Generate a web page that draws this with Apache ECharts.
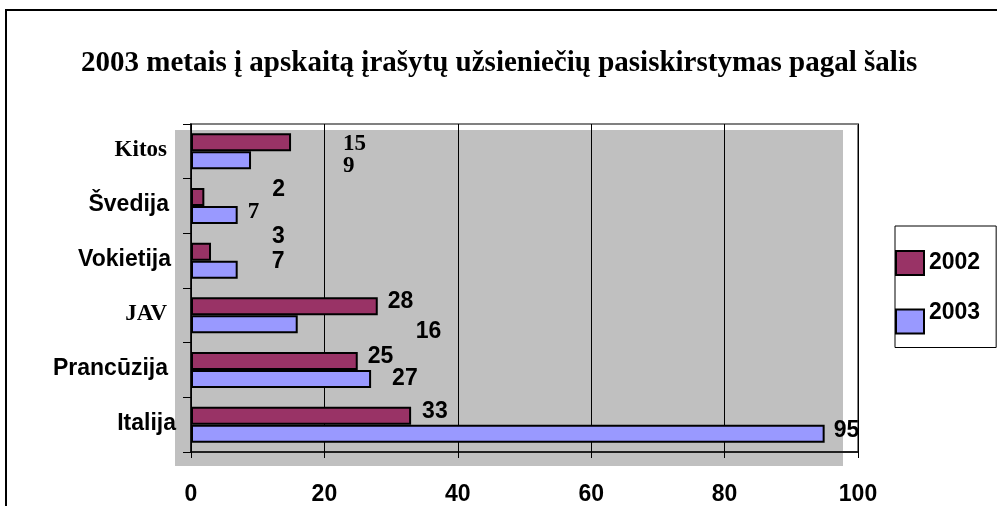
<!DOCTYPE html>
<html>
<head>
<meta charset="utf-8">
<script src="https://cdn.jsdelivr.net/npm/echarts@6/dist/echarts.min.js"></script>
<style>html,body{margin:0;padding:0;background:#fff}#c{width:997px;height:506px}</style>
</head>
<body>
<div id="c"></div>
<script>
const categories = ['Kitos', 'Švedija', 'Vokietija', 'JAV', 'Prancūzija', 'Italija'];
const values2002 = [15, 2, 3, 28, 25, 33];
const values2003 = [9, 7, 7, 16, 27, 95];
const seriesNames = ['2002', '2003'];
const xTicks = [0, 20, 40, 60, 80, 100];

// label placement / style (layout only)
const off2002 = [[52, 1.5], [68, -7], [61, -15], [10, -5], [10, -4.5], [11, -4]];
const off2003 = [[92, 6], [10, -3], [34, -8], [118, 7.5], [21, 0], [9, -3]];
const serif2002 = [true, false, false, false, false, false];
const serif2003 = [true, true, false, false, false, false];
const catSerif = [true, false, false, true, false, false];
const catPadRight = [10, 8, 6, 10, 9, 1];

const SANS = 'Liberation Sans, Arial, sans-serif';
const SERIF = 'Liberation Serif, Times New Roman, serif';

function mk(vals, offs, serifs) {
  return vals.map((v, i) => ({
    value: v,
    label: { offset: offs[i], fontFamily: serifs[i] ? SERIF : SANS }
  }));
}

const rich = {};
categories.forEach((c, i) => {
  rich['c' + i] = {
    fontFamily: catSerif[i] ? SERIF : SANS,
    fontWeight: 'bold', fontSize: 23, color: '#000',
    padding: [0, catPadRight[i], 3, 0]
  };
});

const chart = echarts.init(document.getElementById('c'));
chart.setOption({
  animation: false,
  backgroundColor: '#fff',
  graphic: [
    { type: 'rect', z: -10, shape: { x: 175, y: 130, width: 668, height: 336 }, style: { fill: '#C0C0C0' } },
    { type: 'rect', z: 100, shape: { x: 6, y: 10, width: 1000, height: 600 }, style: { fill: 'none', stroke: '#000', lineWidth: 2 } }
  ],
  title: {
    text: '2003 metais į apskaitą įrašytų užsieniečių pasiskirstymas pagal šalis',
    left: 76, top: 44,
    textStyle: { fontFamily: SERIF, fontWeight: 'bold', fontSize: 29, color: '#000' }
  },
  legend: {
    data: seriesNames,
    orient: 'vertical',
    left: 895, top: 226,
    padding: [24, 16, 13, 0],
    itemGap: 25,
    itemWidth: 28, itemHeight: 24,
    icon: 'rect',
    backgroundColor: '#fff',
    borderColor: '#000', borderWidth: 1,
    formatter: n => n === '2003' ? '{b|' + n + '}' : '{a|' + n + '}',
    textStyle: {
      fontFamily: SANS, fontWeight: 'bold', fontSize: 23, color: '#000',
      rich: {
        a: { fontFamily: SANS, fontWeight: 'bold', fontSize: 23, color: '#000', padding: [9, 0, 9, 0] },
        b: { fontFamily: SANS, fontWeight: 'bold', fontSize: 23, color: '#000', padding: [0, 0, 18, 0] }
      }
    }
  },
  grid: {
    left: 191, right: 139, top: 124, bottom: 46,
    show: true, borderColor: '#808080', borderWidth: 2, backgroundColor: 'transparent'
  },
  xAxis: {
    type: 'value', min: xTicks[0], max: xTicks[xTicks.length - 1], interval: 20,
    axisLine: { show: true, lineStyle: { color: '#000', width: 1.5 } },
    axisTick: { show: true, length: 6, lineStyle: { color: '#000' } },
    splitLine: { show: true, lineStyle: { color: '#000', width: 1 } },
    axisLabel: { margin: 31, fontFamily: SANS, fontWeight: 'bold', fontSize: 23, color: '#000' }
  },
  yAxis: {
    type: 'category', data: categories, inverse: true,
    axisLine: { show: true, lineStyle: { color: '#000', width: 1.5 } },
    axisTick: { show: true, length: 8, lineStyle: { color: '#000' } },
    axisLabel: {
      margin: 14,
      formatter: (v) => '{c' + categories.indexOf(v) + '|' + v + '}',
      rich: rich
    }
  },
  series: [
    {
      name: seriesNames[0], type: 'bar', barWidth: 18, barGap: '0%',
      itemStyle: { color: '#993366', borderColor: '#000', borderWidth: 2 },
      label: { show: true, position: 'right', distance: 0, fontWeight: 'bold', fontSize: 23, color: '#000' },
      data: mk(values2002, off2002, serif2002)
    },
    {
      name: seriesNames[1], type: 'bar', barWidth: 18, barGap: '0%',
      itemStyle: { color: '#9999FF', borderColor: '#000', borderWidth: 2 },
      label: { show: true, position: 'right', distance: 0, fontWeight: 'bold', fontSize: 23, color: '#000' },
      data: mk(values2003, off2003, serif2003)
    }
  ]
});
</script>
</body>
</html>
